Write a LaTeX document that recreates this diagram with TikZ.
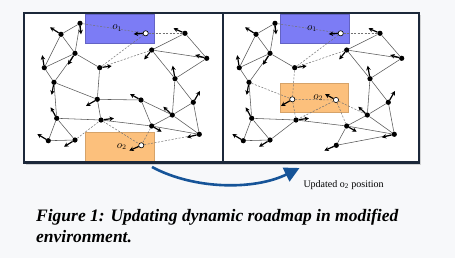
\documentclass[tikz,border=0pt]{standalone}
\usepackage{amsmath}
\usepackage{fontspec}
\setmainfont{Liberation Serif}
\usepackage{xcolor}
\usetikzlibrary{arrows.meta}

\definecolor{pagebg}{RGB}{247,248,250}
\definecolor{framenavy}{RGB}{28,40,58}
\definecolor{obsblue}{RGB}{124,124,245}
\definecolor{obsorange}{RGB}{252,192,124}
\definecolor{movearrow}{RGB}{22,84,152}

% name / x / y / velocity dx / velocity dy / style left / style right
\def\roadmap{A/80/23.3/1/11/vtx/vtx, B/61/34.3/-11/-7/vtx/vtx,
  C/75/53.3/-7/11.5/vtx/vtx, D/44.3/67.7/-2/-12.5/vtx/vtx,
  E/99.7/67.7/12/-1.7/vtx/vtx, F/54/82.3/-2.3/12.5/vtx/vtx,
  G/97.3/99.3/-11.3/6.7/vtx/wvtx, H/56.7/118.3/-6/-11/vtx/vtx,
  I/101/120/13/-1.7/vtx/vtx, J/48.3/140.7/-11/-6.7/vtx/vtx,
  K/75/140/-11/6.7/vtx/vtx, O/145.7/33.3/-12/0.7/wvtx/wvtx,
  L/185/33.3/-11.5/-5/vtx/vtx, M/151.7/50/-7.5/9.5/vtx/vtx,
  N/206.7/58.3/-11.5/-3.3/vtx/vtx, P/175/78.7/-2.3/-13/vtx/vtx,
  Q/141/100/-11/-6/vtx/wvtx, R/193.3/102.3/6.7/-11.3/vtx/vtx,
  S/172.3/115/-9/-8.3/vtx/vtx, T/151.7/126/10/5.7/vtx/vtx,
  U/199.3/134.3/-12.5/3/vtx/vtx, Z/141.3/145.3/-12/5.3/wvtx/vtx}

\begin{document}
\begin{tikzpicture}[x=1pt,y=-1pt,
  vtx/.style={circle,fill=black,inner sep=0pt,minimum size=5.2pt},
  wvtx/.style={circle,draw=black,fill=white,line width=0.6pt,inner sep=0pt,minimum size=5.2pt},
  edge/.style={draw=black!65,line width=0.55pt},
  dedge/.style={draw=black!55,line width=0.5pt,dash pattern=on 2pt off 1.5pt},
  vel/.style={line width=1.2pt,-{Stealth[length=4.5pt,width=4.5pt]}},
  obslabel/.style={font=\fontsize{10.5}{12}\selectfont}]
% page and panels
\fill[pagebg] (0,0) rectangle (455,258);
\useasboundingbox (0,0) rectangle (455,258);
\fill[black,opacity=0.15] (26,15) rectangle (421,165);
\fill[white] (24,12.7) rectangle (419,162.5);
% obstacles
\filldraw[fill=obsblue,draw=obsblue!80!black,line width=0.3pt] (85,14) rectangle (154,43.3);
\filldraw[fill=obsorange,draw=obsorange!85!black,line width=0.3pt] (85,132.3) rectangle (154,161.5);
\filldraw[fill=obsblue,draw=obsblue!80!black,line width=0.3pt] (280,14) rectangle (349,43.3);
\filldraw[fill=obsorange,draw=obsorange!85!black,line width=0.3pt] (280,83.3) rectangle (348.3,111.7);
\node[obslabel] (lo1) at (117.3,28.3) {$o_1$};
\node[obslabel] (lo2) at (121.7,146.7) {$o_2$};
\node[obslabel] (ro1) at (312,28.7) {$o_1$};
\node[obslabel] (ro2) at (318.3,97.7) {$o_2$};
% roadmap nodes, left and right
\foreach \n/\x/\y/\vx/\vy/\lt/\rt in \roadmap {
  \node[\lt] (l\n) at (\x,\y) {};
  \node[\rt] (r\n) at (\x+195,\y) {};
}
% edges (left)
\foreach \a/\b in {A/B,A/C,B/C,B/D,C/D,C/E,C/F,D/F,E/G,F/G,F/H,G/I,G/Q,H/I,H/J,H/K,J/K,
  I/T,Q/T,Q/S,S/T,L/M,L/N,M/N,M/P,N/P,P/R,P/S,R/S,R/U,S/U,T/U}
  \draw[edge] (l\a) -- (l\b);
\foreach \a/\b in {A/O,O/L,O/E,M/E,K/I,I/Z,T/Z,Z/U}
  \draw[dedge] (l\a) -- (l\b);
% edges (right)
\foreach \a/\b in {A/B,A/C,B/C,B/D,C/D,C/E,C/F,D/F,F/H,H/I,H/J,H/K,J/K,K/I,
  I/T,T/Z,Z/U,S/T,L/M,L/N,M/N,M/P,N/P,P/R,P/S,R/S,R/U,S/U,T/U}
  \draw[edge] (r\a) -- (r\b);
\foreach \a/\b in {A/O,O/L,O/E,M/E,E/G,F/G,G/I,G/Q,Q/I,Q/T,Q/S}
  \draw[dedge] (r\a) -- (r\b);
% velocities
\foreach \n/\x/\y/\vx/\vy/\lt/\rt in \roadmap {
  \path (l\n) ++(\vx,\vy) coordinate (lv\n);
  \path (r\n) ++(\vx,\vy) coordinate (rv\n);
  \draw[vel] (l\n) -- (lv\n);
  \draw[vel] (r\n) -- (rv\n);
}
% frames
\draw[framenavy,line width=2.2pt] (24,12.7) rectangle (223,162.5);
\draw[framenavy,line width=2.2pt] (223,12.7) rectangle (419,162.5);
% update arrow
\coordinate (mvS) at (152,167);
\coordinate (mvE) at (299.5,168);
\draw[movearrow,line width=2.6pt,-{Triangle[length=15pt,width=15pt]}]
  (mvS) .. controls (195,190) and (255,190) .. (mvE);
\node[anchor=base west,font=\fontsize{10}{11}\selectfont,inner sep=0pt] (upd) at (303.3,187.3) {Updated o\textsubscript{2} position};
% caption
\node[anchor=base west,font=\fontsize{17.5}{21}\selectfont\bfseries\itshape,inner sep=0pt] (cap1) at (36,221.7)
  {Figure 1: Updating dynamic roadmap in modified};
\node[anchor=base west,font=\fontsize{17.5}{21}\selectfont\bfseries\itshape,inner sep=0pt] (cap2) at (36,242.3)
  {environment.};
\end{tikzpicture}
\end{document}
